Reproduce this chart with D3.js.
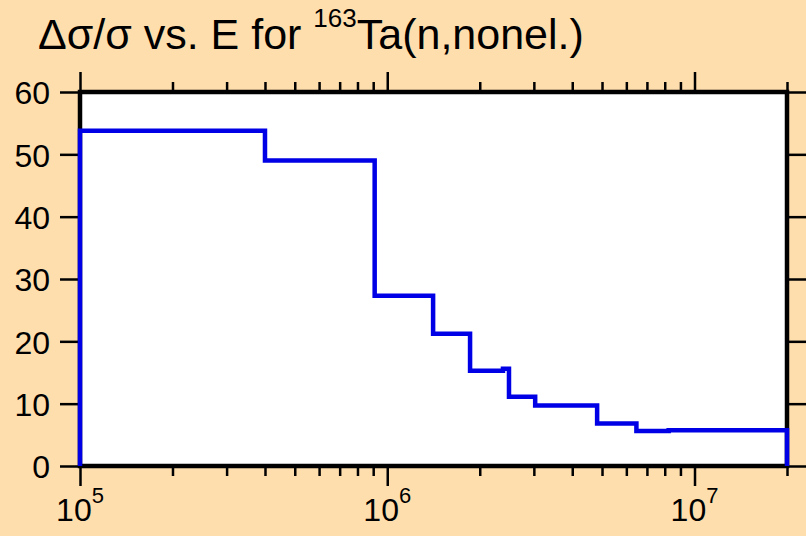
<!DOCTYPE html>
<html>
<head>
<meta charset="utf-8">
<script src="https://cdn.jsdelivr.net/npm/d3@7"></script>
<style>
  body { margin: 0; background: #ffdead; }
  text { font-family: "Liberation Sans", Arial, sans-serif; }
</style>
</head>
<body>
<div id="chart"></div>
<script>
// bin edges (eV) and relative uncertainty (%) per bin
var edges = [1e5, 4e5, 9.1e5, 1.41e6, 1.86e6, 2.38e6, 2.49e6, 3.03e6, 4.82e6, 6.47e6, 8.24e6, 2e7];
var values = [53.8, 49.0, 27.3, 21.2, 15.3, 15.6, 11.1, 9.7, 6.8, 5.6, 5.75];
var yTicks = [0, 10, 20, 30, 40, 50, 60];
var xMajor = [1e5, 1e6, 1e7];

var width = 806,
  height = 536;
var plotL = 80, plotR = 787, plotT = 92, plotB = 466;

var svg = d3.select( "#chart" )
  .append( "svg" )
  .attr( "width", width )
  .attr( "height", height );

svg.append( "rect" )
  .attr( "width", width )
  .attr( "height", height )
  .attr( "fill", "#ffdead" );

var x = d3.scaleLog()
  .domain( [1e5, 2e7] )
  .range( [plotL, plotR] );

var y = d3.scaleLinear()
  .domain( [0, 60] )
  .range( [plotB, plotT] );

// minor ticks: 2..9 of each decade, plus the right end
var xMinor = [];
[1e5, 1e6, 1e7].forEach(function(d){
  for (var k = 2; k <= 9; k++) {
    if (d*k <= 2e7) xMinor.push(d*k);
  }
});

svg.append( "rect" )
  .attr( "x", plotL )
  .attr( "y", plotT )
  .attr( "width", plotR - plotL )
  .attr( "height", plotB - plotT )
  .attr( "fill", "white" );

function styleAxis(g){
  g.select( ".domain" ).remove();
  g.selectAll( ".tick line" ).attr( "stroke", "black" ).attr( "stroke-width", 2.5 );
  g.selectAll( "text" ).attr( "fill", "black" );
}

// left axis
svg.append( "g" )
  .attr( "transform", "translate(" + plotL + ",0)" )
  .call( d3.axisLeft(y).tickValues(yTicks).tickSize(20).tickPadding(10) )
  .call( styleAxis )
  .selectAll( "text" )
  .attr( "font-size", 32 )
  .attr( "dy", "0.37em" )
  .attr( "font-family", "Liberation Sans, Arial, sans-serif" );

// right axis (no labels)
svg.append( "g" )
  .attr( "transform", "translate(" + plotR + ",0)" )
  .call( d3.axisRight(y).tickValues(yTicks).tickSize(20).tickFormat("") )
  .call( styleAxis );

// bottom / top: minor then major
svg.append( "g" )
  .attr( "transform", "translate(0," + plotB + ")" )
  .call( d3.axisBottom(x).tickValues(xMinor).tickSize(10).tickFormat("") )
  .call( styleAxis );
svg.append( "g" )
  .attr( "transform", "translate(0," + plotB + ")" )
  .call( d3.axisBottom(x).tickValues(xMajor).tickSize(20).tickFormat("") )
  .call( styleAxis );
svg.append( "g" )
  .attr( "transform", "translate(0," + plotT + ")" )
  .call( d3.axisTop(x).tickValues(xMinor).tickSize(10).tickFormat("") )
  .call( styleAxis );
svg.append( "g" )
  .attr( "transform", "translate(0," + plotT + ")" )
  .call( d3.axisTop(x).tickValues(xMajor).tickSize(20).tickFormat("") )
  .call( styleAxis );

// x labels 10^n
var xl = svg.append( "g" ).selectAll( "text" )
  .data( xMajor )
  .enter()
  .append( "text" )
  .attr( "x", function(d){ return x(d); } )
  .attr( "y", 521 )
  .attr( "text-anchor", "middle" )
  .attr( "font-size", 32 )
  .attr( "fill", "black" );
xl.append( "tspan" ).text( "10" );
xl.append( "tspan" )
  .attr( "dy", -18 )
  .attr( "font-size", 22 )
  .text( function(d){ return Math.round(Math.log10(d)); } );

// frame
svg.append( "rect" )
  .attr( "x", plotL )
  .attr( "y", plotT )
  .attr( "width", plotR - plotL )
  .attr( "height", plotB - plotT )
  .attr( "fill", "none" )
  .attr( "stroke", "black" )
  .attr( "stroke-width", 4.5 );

// step line
var pts = [[edges[0], 0]];
values.forEach(function(v, i){ pts.push([edges[i], v]); });
pts.push([edges[edges.length-1], values[values.length-1]]);
pts.push([edges[edges.length-1], 0]);

var line = d3.line()
  .x(function(d){ return x(d[0]); })
  .y(function(d){ return y(d[1]); })
  .curve(d3.curveStepAfter);

svg.append( "path" )
  .datum( pts )
  .attr( "d", line )
  .attr( "fill", "none" )
  .attr( "stroke", "#0000e6" )
  .attr( "stroke-width", 4.5 );

// title
var title = svg.append( "text" )
  .attr( "x", 38 )
  .attr( "y", 49 )
  .attr( "font-size", 43 )
  .attr( "fill", "black" );
title.append( "tspan" ).text( "\u0394\u03c3/\u03c3 vs. E for " );
title.append( "tspan" ).attr( "dy", -22 ).attr( "font-size", 26 ).text( "163" );
title.append( "tspan" ).attr( "dy", 22 ).text( "Ta(n,nonel.)" );
</script>
</body>
</html>
